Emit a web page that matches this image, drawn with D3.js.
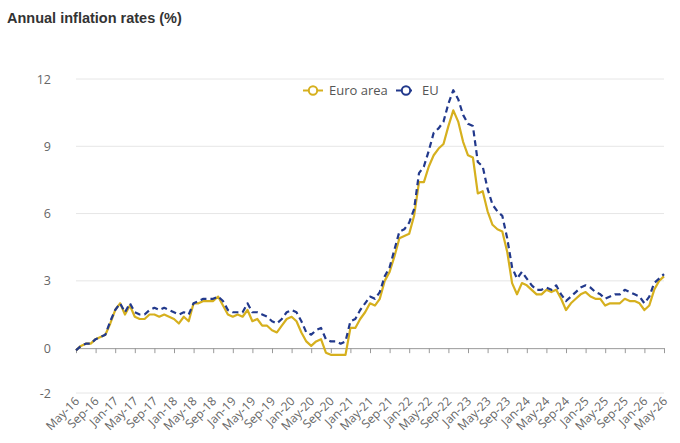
<!DOCTYPE html>
<html>
<head>
<meta charset="utf-8">
<script src="https://cdn.jsdelivr.net/npm/d3@7"></script>
<style>
  html, body { margin: 0; padding: 0; background: #fff; }
  svg { display: block; }
</style>
</head>
<body>
<svg id="chart" width="680" height="443"></svg>
<script>
// ---- Data ----
const title = "Annual inflation rates (%)";
const startMonth = { year: 2016, month: 4 }; // May-16 (0-based month)
const monthNames = ["Jan","Feb","Mar","Apr","May","Jun","Jul","Aug","Sep","Oct","Nov","Dec"];

const seriesNames = ["Euro area", "EU"];

const euroArea = [
  -0.1, 0.1, 0.2, 0.2, 0.4, 0.5, 0.6, 1.1,
  1.7, 2.0, 1.5, 1.9, 1.4, 1.3, 1.3, 1.5, 1.5, 1.4, 1.5, 1.4,
  1.3, 1.1, 1.4, 1.2, 2.0, 2.0, 2.1, 2.1, 2.1, 2.3, 1.9, 1.5,
  1.4, 1.5, 1.4, 1.7, 1.2, 1.3, 1.0, 1.0, 0.8, 0.7, 1.0, 1.3,
  1.4, 1.2, 0.7, 0.3, 0.1, 0.3, 0.4, -0.2, -0.3, -0.3, -0.3, -0.3,
  0.9, 0.9, 1.3, 1.6, 2.0, 1.9, 2.2, 3.0, 3.4, 4.1, 4.9, 5.0,
  5.1, 5.9, 7.4, 7.4, 8.1, 8.6, 8.9, 9.1, 9.9, 10.6, 10.1, 9.2,
  8.6, 8.5, 6.9, 7.0, 6.1, 5.5, 5.3, 5.2, 4.3, 2.9, 2.4, 2.9,
  2.8, 2.6, 2.4, 2.4, 2.6, 2.5, 2.6, 2.2, 1.7, 2.0, 2.2, 2.4,
  2.5, 2.3, 2.2, 2.2, 1.9, 2.0, 2.0, 2.0, 2.2, 2.1, 2.1, 2.0,
  1.7, 1.9, 2.6, 3.0, 3.2
];

const eu = [
  -0.1, 0.1, 0.2, 0.2, 0.4, 0.5, 0.6, 1.2,
  1.7, 2.0, 1.6, 2.0, 1.6, 1.5, 1.5, 1.7, 1.8, 1.7, 1.8, 1.7,
  1.6, 1.5, 1.6, 1.5, 2.0, 2.1, 2.2, 2.2, 2.2, 2.3, 2.1, 1.7,
  1.6, 1.6, 1.6, 2.0, 1.6, 1.6, 1.5, 1.4, 1.2, 1.1, 1.3, 1.6,
  1.7, 1.6, 1.2, 0.7, 0.6, 0.8, 0.9, 0.4, 0.3, 0.3, 0.2, 0.3,
  1.2, 1.3, 1.7, 2.0, 2.3, 2.2, 2.5, 3.2, 3.6, 4.4, 5.2, 5.3,
  5.6, 6.2, 7.8, 8.1, 8.8, 9.6, 9.8, 10.1, 10.9, 11.5, 11.1, 10.4,
  10.0, 9.9, 8.3, 8.1, 7.1, 6.4, 6.1, 5.9, 4.9, 3.6, 3.1, 3.4,
  3.1, 2.8, 2.6, 2.6, 2.7, 2.6, 2.8, 2.4, 2.1, 2.3, 2.5, 2.7,
  2.8, 2.7, 2.5, 2.4, 2.2, 2.3, 2.4, 2.4, 2.6, 2.5, 2.4, 2.3,
  2.0, 2.3, 2.9, 3.1, 3.3
];

const yTicks = [-2, 0, 3, 6, 9, 12];
const yTickLabels = ["-2", "0", "3", "6", "9", "12"];
const xTickStep = 4; // label every 4 months

// ---- Build month labels ----
const monthLabels = euroArea.map((_, i) => {
  const m = (startMonth.month + i) % 12;
  const y = startMonth.year + Math.floor((startMonth.month + i) / 12);
  return monthNames[m] + "-" + String(y % 100).padStart(2, "0");
});

// ---- Layout ----
const W = 680, H = 443;
const margin = { top: 79, right: 16, bottom: 50, left: 76 };
const svg = d3.select("#chart");

const x = d3.scaleLinear()
  .domain([0, monthLabels.length - 1])
  .range([margin.left, W - margin.right]);
const y = d3.scaleLinear()
  .domain([-2, 12])
  .range([H - margin.bottom, margin.top]);

const colors = { "Euro area": "#d6b01e", "EU": "#22398c" };

// Title
svg.append("text")
  .attr("x", 7).attr("y", 23)
  .attr("font-family", "'Liberation Sans', Arial, sans-serif")
  .attr("font-weight", "bold")
  .attr("font-size", 14.5)
  .attr("fill", "#333")
  .text(title);

// Gridlines
const gridTicks = yTicks.filter(d => d !== 0);
svg.append("g").selectAll("line").data(gridTicks).join("line")
  .attr("x1", x.range()[0]).attr("x2", x.range()[1])
  .attr("y1", d => y(d)).attr("y2", d => y(d))
  .attr("stroke", "#e6e6e6").attr("stroke-width", 1);

// Y axis labels
const yAxis = d3.axisLeft(y).tickValues(yTicks).tickSize(0).tickPadding(0)
  .tickFormat(d => yTickLabels[yTicks.indexOf(d)]);
const yg = svg.append("g").attr("transform", `translate(${margin.left - 25},0)`).call(yAxis);
yg.select(".domain").remove();
yg.selectAll("text")
  .attr("font-family", "'Open Sans', Arial, sans-serif")
  .attr("font-size", 12.5)
  .attr("fill", "#666");

// Zero line axis with ticks
const tickIdx = d3.range(0, monthLabels.length, xTickStep);
const xAxis = d3.axisBottom(x).tickValues(tickIdx).tickSize(5).tickSizeOuter(0).tickFormat("");
const xg = svg.append("g").attr("transform", `translate(0,${y(0)})`).call(xAxis);
xg.select(".domain").attr("stroke", "#999");
xg.selectAll(".tick line").attr("stroke", "#999");

// X labels at bottom, rotated
const lg = svg.append("g");
lg.selectAll("text").data(tickIdx).join("text")
  .attr("transform", d => `translate(${x(d) + 4},${y(-2) + 9}) rotate(-45)`)
  .attr("text-anchor", "end")
  .attr("font-family", "'Open Sans', Arial, sans-serif")
  .attr("font-size", 12)
  .attr("fill", "#666")
  .text(d => monthLabels[d]);

// Lines
const line = d3.line().x((d, i) => x(i)).y(d => y(d));
svg.append("path")
  .datum(euroArea)
  .attr("d", line)
  .attr("fill", "none")
  .attr("stroke", colors["Euro area"])
  .attr("stroke-width", 2.2)
  .attr("stroke-linejoin", "round");
svg.append("path")
  .datum(eu)
  .attr("d", line)
  .attr("fill", "none")
  .attr("stroke", colors["EU"])
  .attr("stroke-width", 2.2)
  .attr("stroke-dasharray", "6,4")
  .attr("stroke-linejoin", "round");

// Legend
const legendItems = [
  { name: seriesNames[0], x: 303, dash: null },
  { name: seriesNames[1], x: 396, dash: "6,4" }
];
const legY = 90.5;
const leg = svg.append("g");
legendItems.forEach(it => {
  const g = leg.append("g");
  g.append("line")
    .attr("x1", it.x).attr("x2", it.x + 20)
    .attr("y1", legY).attr("y2", legY)
    .attr("stroke", colors[it.name]).attr("stroke-width", 2)
    .attr("stroke-dasharray", it.dash);
  g.append("circle")
    .attr("cx", it.x + 10).attr("cy", legY).attr("r", 4.2)
    .attr("fill", "#fff").attr("stroke", colors[it.name]).attr("stroke-width", 2);
  g.append("text")
    .attr("x", it.x + 26).attr("y", legY + 4.5)
    .attr("font-family", "'Open Sans', Arial, sans-serif")
    .attr("font-size", 13)
    .attr("fill", "#555")
    .text(it.name);
});
</script>
</body>
</html>
